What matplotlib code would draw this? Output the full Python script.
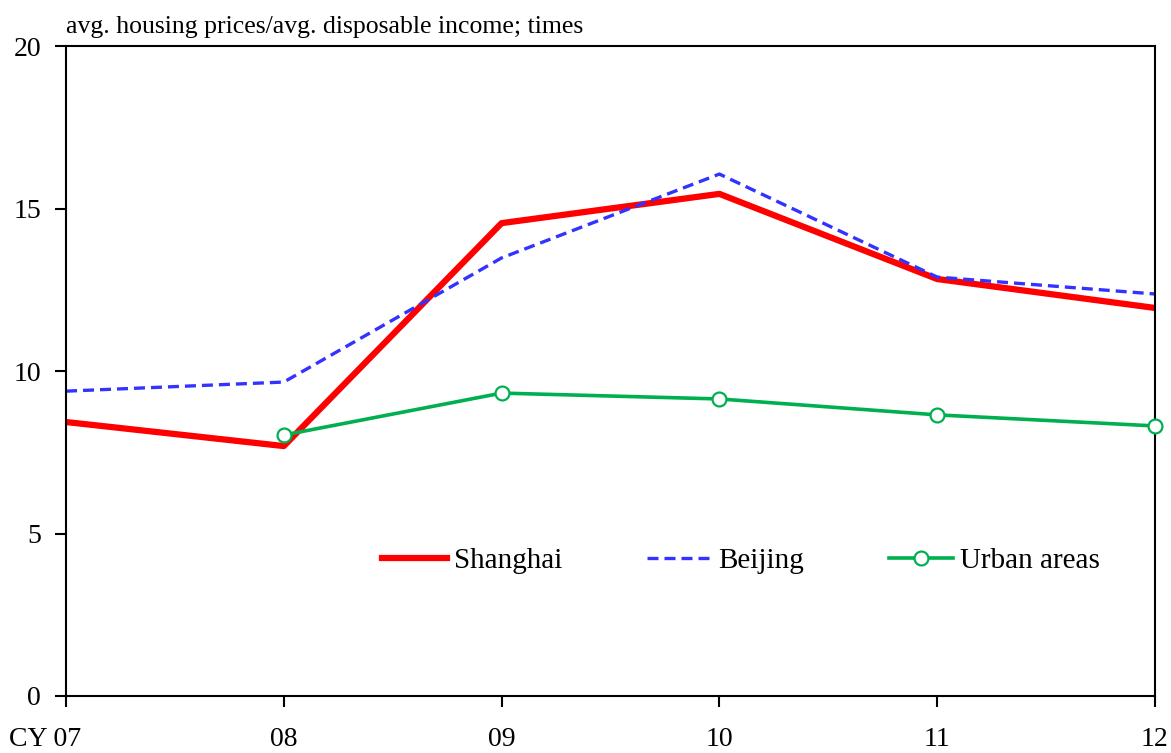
import matplotlib

matplotlib.use("Agg")
import matplotlib.pyplot as plt
from matplotlib.transforms import ScaledTranslation

plt.rcParams["font.family"] = ["Liberation Serif", "DejaVu Serif"]

# Values (times: avg. housing price / avg. disposable income)
YEARS = ["CY 07", "08", "09", "10", "11", "12"]
SHANGHAI = [8.43, 7.69, 14.55, 15.45, 12.83, 11.94]
BEIJING = [9.38, 9.66, 13.48, 16.06, 12.89, 12.37]
URBAN = [None, 8.03, 9.32, 9.14, 8.65, 8.31]
YTICKS = [0, 5, 10, 15, 20]


def main():
    fig = plt.figure(figsize=(11.71, 7.53), dpi=100)
    ax = fig.add_axes([0.0564, 0.0757, 0.9299, 0.8632])

    x = list(range(len(YEARS)))
    ax.plot(x, SHANGHAI, color="#ff0000", lw=4.5, label="Shanghai")
    ax.plot(x, BEIJING, color="#3333ff", lw=2.4, ls=(0, (3.3, 1.8)), label="Beijing")
    ux = [i for i, v in zip(x, URBAN) if v is not None]
    uy = [v for v in URBAN if v is not None]
    ax.plot(ux, uy, color="#00b050", lw=2.6, marker="o", ms=10, mfc="white",
            mec="#00b050", mew=1.6, label="Urban areas", clip_on=False, zorder=5)

    ax.set_xlim(0, len(YEARS) - 1)
    ax.set_ylim(0, 20)
    ax.set_xticks(x)
    ax.set_xticklabels(YEARS, fontsize=20)
    ax.set_yticks(YTICKS)
    ax.set_yticklabels([str(t) for t in YTICKS], fontsize=20)
    ax.tick_params(axis="both", direction="out", length=8, width=1.5, pad=10)
    ax.tick_params(axis="x", pad=14)
    for sp in ax.spines.values():
        sp.set_linewidth(1.5)

    # "CY 07": the "07" part sits under the tick, the prefix hangs to the left
    first = ax.get_xticklabels()[0]
    first.set_transform(first.get_transform() + ScaledTranslation(-0.21, 0, fig.dpi_scale_trans))

    ax.text(0.0, 1.012, "avg. housing prices/avg. disposable income; times",
            transform=ax.transAxes, fontsize=18.5, ha="left", va="bottom")

    ax.legend(loc="center", bbox_to_anchor=(0.62, 0.208), ncol=3, frameon=False,
              fontsize=21, handlelength=2.2, columnspacing=2.9, handletextpad=0.25)

    fig.savefig("out.png", dpi=100)
    plt.close(fig)


if __name__ == "__main__":
    main()
